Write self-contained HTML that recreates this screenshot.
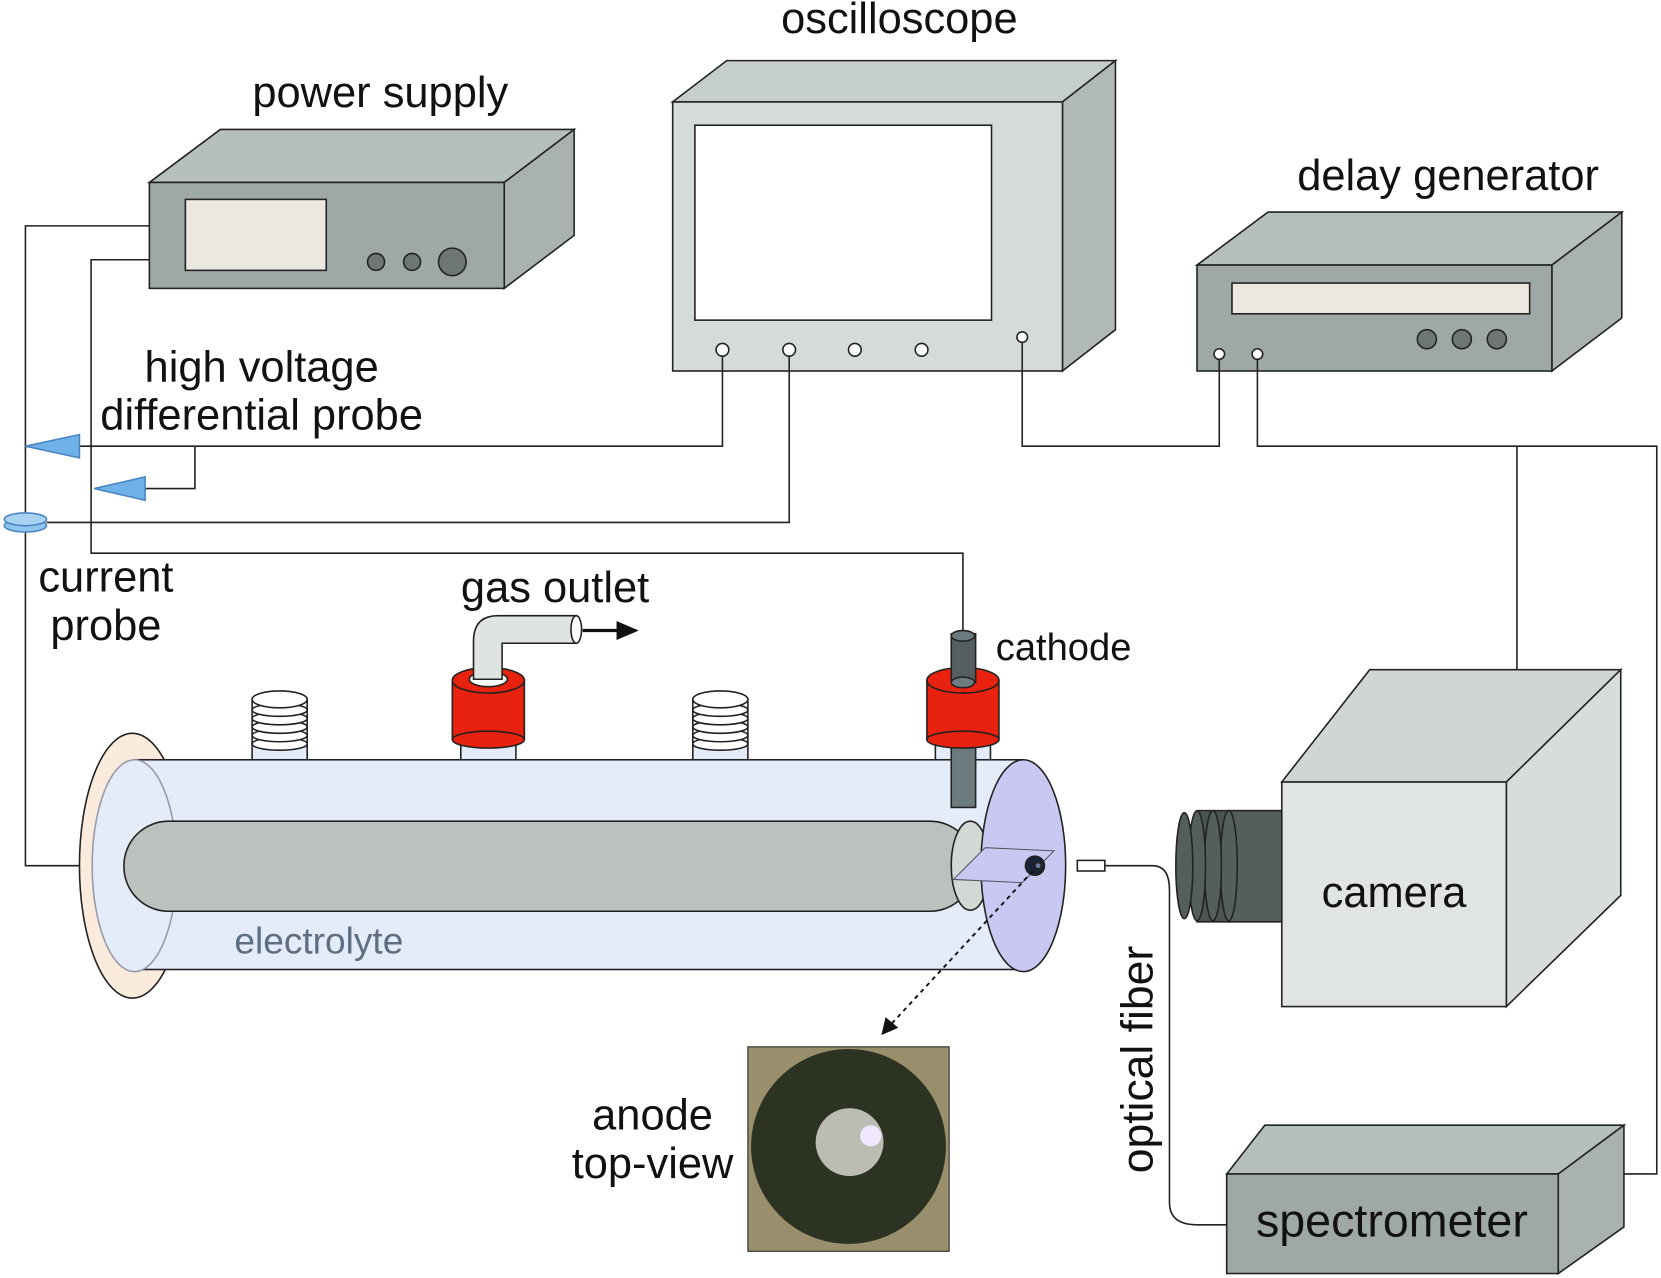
<!DOCTYPE html>
<html><head><meta charset="utf-8"><style>
html,body{margin:0;padding:0;background:#fff;}
svg{display:block;}
text{font-family:"Liberation Sans",sans-serif;fill:#111;}
</style></head><body>
<svg width="1661" height="1278" viewBox="0 0 1568 1206" xmlns="http://www.w3.org/2000/svg">
<g stroke="#222" stroke-width="1.5">
<!-- power supply -->
<polygon points="141,172 208,122 542,122 476,172" fill="#b5bfbd"/>
<polygon points="476,172 542,122 542,222 476,272" fill="#a9b2b0"/>
<rect x="141" y="172" width="335" height="100" fill="#9ea8a6"/>
<rect x="175" y="188" width="133" height="67" fill="#ebe8e2"/>
<circle cx="355" cy="247" r="8" fill="#6e7674"/>
<circle cx="389" cy="247" r="8" fill="#6e7674"/>
<circle cx="427" cy="247" r="13" fill="#6e7674"/>
<!-- oscilloscope -->
<polygon points="635,96 686,57 1053,57 1003,96" fill="#c6cecc"/>
<polygon points="1003,96 1053,57 1053,311 1003,350" fill="#b0b9b7"/>
<rect x="635" y="96" width="368" height="254" fill="#d5dbda"/>
<rect x="656" y="118" width="280" height="184" fill="#fff"/>
<!-- delay generator -->
<polygon points="1130,250 1197,200 1531,200 1465,250" fill="#b5bfbd"/>
<polygon points="1465,250 1531,200 1531,300 1465,350" fill="#a9b2b0"/>
<rect x="1130" y="250" width="335" height="100" fill="#9ea8a6"/>
<rect x="1163" y="267" width="281" height="29" fill="#ebe8e2"/>
<circle cx="1347" cy="320" r="9" fill="#6e7674"/>
<circle cx="1380" cy="320" r="9" fill="#6e7674"/>
<circle cx="1413" cy="320" r="9" fill="#6e7674"/>
<!-- wires -->
<g fill="none">
<polyline points="141,213 24,213 24,817 80,817"/>
<polyline points="141,245 86,245 86,522 909,522 909,598"/>
<polyline points="682,336 682,421 75,421"/>
<polyline points="184,421 184,461 137,461"/>
<polyline points="745,336 745,493 44,493"/>
<polyline points="965,323 965,421 1151,421 1151,339"/>
<polyline points="1187,339 1187,421 1564,421 1564,1108 1533,1108"/>
<line x1="1432" y1="421" x2="1432" y2="632"/>
<path d="M1043,817 L1088,817 Q1104,817 1104,840 L1104,1135 Q1104,1156 1130,1156 L1158,1156"/>
</g>
<circle cx="682" cy="330" r="6" fill="#fff"/>
<circle cx="745" cy="330" r="6" fill="#fff"/>
<circle cx="807" cy="330" r="6" fill="#fff"/>
<circle cx="870" cy="330" r="6" fill="#fff"/>
<circle cx="965" cy="318" r="5" fill="#fff"/>
<circle cx="1151" cy="334" r="5" fill="#fff"/>
<circle cx="1187" cy="334" r="5" fill="#fff"/>
<rect x="1017" y="812" width="26" height="10" fill="#fff"/>
<!-- probes -->
<polygon points="24,421 75,410 75,432" fill="#6fb1e8" stroke="#4a86c0"/>
<polygon points="89,461 137,450 137,472" fill="#6fb1e8" stroke="#4a86c0"/>
<ellipse cx="24" cy="496" rx="20" ry="6" fill="#8fc4ee" stroke="#4a86c0"/>
<ellipse cx="24" cy="490" rx="20" ry="6" fill="#a9d2f3" stroke="#4a86c0"/>
<!-- camera -->
<polygon points="1210,738 1293,632 1530,632 1422,738" fill="#d0d6d4"/>
<polygon points="1422,738 1530,632 1530,845 1422,950" fill="#d8dddc"/>
<rect x="1210" y="738" width="212" height="212" fill="#e0e4e3"/>
<rect x="1160" y="765" width="50" height="105" fill="#545f5d"/>
<path d="M1130,765 h30 v105 h-30 z" fill="#4a5553"/>
<ellipse cx="1160" cy="817" rx="8" ry="52" fill="#545f5d"/>
<ellipse cx="1145" cy="817" rx="8" ry="52" fill="#545f5d"/>
<ellipse cx="1130" cy="817" rx="8" ry="52" fill="#545f5d"/>
<ellipse cx="1118" cy="817" rx="8" ry="50" fill="#545f5d"/>
<!-- spectrometer -->
<polygon points="1158,1108 1194,1062 1533,1062 1471,1108" fill="#b5bfbd"/>
<polygon points="1471,1108 1533,1062 1533,1158 1471,1202" fill="#a9b2b0"/>
<rect x="1158" y="1108" width="313" height="94" fill="#9ea8a6"/>
<!-- cell ports base -->
<rect x="238" y="700" width="52" height="20" fill="#e3ecf8"/>
<rect x="435" y="698" width="52" height="22" fill="#e3ecf8"/>
<rect x="654" y="700" width="52" height="20" fill="#e3ecf8"/>
<rect x="883" y="698" width="52" height="22" fill="#e3ecf8"/>
<!-- cell -->
<ellipse cx="125" cy="817" rx="50" ry="125" fill="#fbebdc"/>
<rect x="127" y="717" width="839" height="198" fill="#e3ecf8"/>
<ellipse cx="127" cy="817" rx="40" ry="100" fill="#e3ecf8" stroke="#99a"/>
<rect x="117" y="775" width="803" height="85" rx="42" fill="#bbc1bd"/>
<ellipse cx="916" cy="817" rx="18" ry="42" fill="#d3d8d5"/>
<ellipse cx="966" cy="817" rx="40" ry="100" fill="#c9c8f2"/>
<polygon points="900,830 930,800 995,803 965,833" fill="#c9c8f2" stroke="#556" stroke-width="1"/>
<circle cx="977" cy="817" r="9" fill="#1a2236"/>
<circle cx="980" cy="817" r="3" fill="#6b7aa0"/>
<!-- cathode rod -->
<rect x="898" y="690" width="23" height="72" fill="#6c7b80"/>
<!-- red caps -->
<rect x="427" y="642" width="68" height="56" fill="#e8220e"/>
<ellipse cx="461" cy="698" rx="34" ry="8" fill="#e8220e"/>
<ellipse cx="461" cy="642" rx="34" ry="12" fill="#e8220e"/>
<ellipse cx="461" cy="641" rx="18" ry="7" fill="#fff"/>
<rect x="875" y="642" width="68" height="56" fill="#e8220e"/>
<ellipse cx="909" cy="698" rx="34" ry="8" fill="#e8220e"/>
<ellipse cx="909" cy="642" rx="34" ry="12" fill="#e8220e"/>
<rect x="898" y="598" width="23" height="46" fill="#555e60"/>
<ellipse cx="909" cy="644" rx="11" ry="5" fill="#6c7b80"/>
<ellipse cx="909" cy="600" rx="11" ry="5" fill="#6c7b80"/>
<!-- gas outlet pipe -->
<path d="M447,641 L447,605 Q447,581 470,581 L544,581 L544,607 L474,607 L474,641 Z" fill="#dfe3e2"/>
<ellipse cx="544" cy="594" rx="5" ry="13" fill="#fff"/>
<!-- screw caps -->
<g fill="#fff">
<rect x="238" y="660" width="52" height="42"/>
<ellipse cx="264" cy="702" rx="26" ry="6"/><ellipse cx="264" cy="694" rx="26" ry="6"/><ellipse cx="264" cy="686" rx="26" ry="6"/><ellipse cx="264" cy="678" rx="26" ry="6"/><ellipse cx="264" cy="670" rx="26" ry="6"/><ellipse cx="264" cy="660" rx="26" ry="8"/>
<rect x="654" y="660" width="52" height="42"/>
<ellipse cx="680" cy="702" rx="26" ry="6"/><ellipse cx="680" cy="694" rx="26" ry="6"/><ellipse cx="680" cy="686" rx="26" ry="6"/><ellipse cx="680" cy="678" rx="26" ry="6"/><ellipse cx="680" cy="670" rx="26" ry="6"/><ellipse cx="680" cy="660" rx="26" ry="8"/>
</g>
</g>
<!-- gas arrow -->
<line x1="550" y1="595" x2="585" y2="595" stroke="#111" stroke-width="3"/>
<polygon points="603,595 582,586 582,604" fill="#111"/>
<!-- dashed arrow -->
<line x1="975" y1="822" x2="840" y2="968" stroke="#111" stroke-width="1.8" stroke-dasharray="4,4"/>
<polygon points="832,977 836,960 848,970" fill="#111"/>
<!-- photo -->
<rect x="706" y="988" width="190" height="193" fill="#9a8f6c" stroke="#222"/>
<circle cx="801" cy="1082" r="92" fill="#2d3323"/>
<circle cx="802" cy="1078" r="32" fill="#bcbcb2"/>
<circle cx="822" cy="1072" r="10" fill="#f0e8ff"/>
<!-- labels -->
<g font-size="41" text-anchor="middle">
<text x="849" y="31">oscilloscope</text>
<text x="359" y="101">power supply</text>
<text x="1367" y="179">delay generator</text>
<text x="247" y="360">high voltage</text>
<text x="247" y="405">differential probe</text>
<text x="100" y="558">current</text>
<text x="100" y="604">probe</text>
<text x="524" y="568">gas outlet</text>
<text x="616" y="1066">anode</text>
<text x="616" y="1112">top-view</text>
<text x="1316" y="856">camera</text>
<text x="1314" y="1167" font-size="44">spectrometer</text>
<text x="0" y="0" transform="translate(1088,1000) rotate(-90)" font-size="42">optical fiber</text>
</g>
<text x="940" y="623" font-size="36">cathode</text>
<text x="301" y="900" font-size="35" text-anchor="middle" style="fill:#5f6f82">electrolyte</text>
</svg>
</body></html>
